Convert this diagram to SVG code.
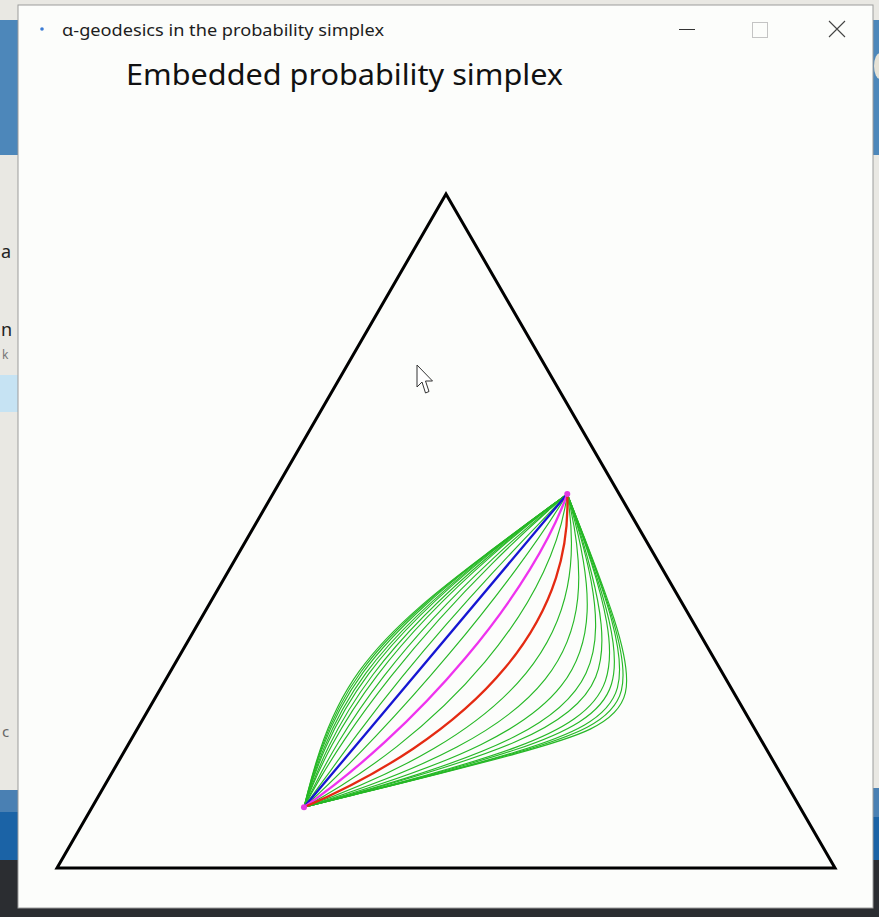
<svg xmlns="http://www.w3.org/2000/svg" width="879" height="917" viewBox="0 0 879 917">
<style>
.ui{font-family:'Segoe UI','Noto Sans','Open Sans',sans-serif}
.g{fill:none;stroke:#26b826;stroke-width:1.15;stroke-linecap:round;stroke-linejoin:round}
.c{fill:none;stroke-width:2.3;stroke-linecap:round}
.edge{fill:none;stroke:#000;stroke-width:3;stroke-linejoin:miter}
.dot{fill:#e23be2}
</style>
<g id="desktop">
<rect width="879" height="917" fill="#e9e8e3"/>
<rect x="0" y="20" width="18" height="135" fill="#4d87ba"/>
<rect x="0" y="375" width="18" height="37" fill="#c6e3f3"/>
<rect x="0" y="790" width="18" height="22" fill="#4a80b3"/>
<rect x="0" y="812" width="18" height="48" fill="#1b63a6"/>
<rect x="873" y="20" width="6" height="135" fill="#4d87ba"/>
<ellipse cx="880" cy="66" rx="6" ry="13" fill="#e6e2d6"/>
<rect x="873" y="788" width="6" height="29" fill="#4a80b3"/>
<rect x="873" y="817" width="6" height="43" fill="#1b63a6"/>
<rect x="0" y="860" width="879" height="57" fill="#2b2d31"/>
<g class="ui">
<text x="1" y="258" font-size="18" fill="#222">a</text>
<text x="1" y="336" font-size="18" fill="#222">n</text>
<text x="2" y="359" font-size="12" fill="#777">k</text>
<text x="2" y="737" font-size="15" fill="#666">c</text>
</g>
</g>
<g id="window">
<rect x="18" y="5" width="855" height="903" fill="#fcfdfb" stroke="#9c9c9c" stroke-width="1"/>
<circle cx="42" cy="29" r="1.8" fill="#3a7bd5"/>
<text class="ui" x="62" y="36" font-size="15.5" fill="#1e1e1e" textLength="322" lengthAdjust="spacingAndGlyphs">α-geodesics in the probability simplex</text>
<line x1="679" y1="29.5" x2="695" y2="29.5" stroke="#333" stroke-width="1"/>
<rect x="752.5" y="22.5" width="15" height="15" fill="none" stroke="#c4c4c4" stroke-width="1"/>
<path d="M829,21 L845,37 M845,21 L829,37" stroke="#444" stroke-width="1.1" fill="none"/>
<text class="ui" x="126" y="85" font-size="29" fill="#111" textLength="437" lengthAdjust="spacingAndGlyphs">Embedded probability simplex</text>
</g>
<g id="simplex">
<polygon class="edge" points="446,194 57,868 835,868"/>
</g>
<g id="geodesics">
<path class="g" d="M303.97,807.27 C305.26,802.02 306.15,798.52 306.94,795.44 C308.99,787.43 312.62,772.28 319.91,750.34 C327.20,728.40 338.69,699.60 359.25,671.12 C394.96,621.67 453.06,579.04 490.82,550.57 C528.58,522.10 551.22,505.75 559.90,499.38 C561.82,497.97 564.01,496.38 567.25,494"/>
<path class="g" d="M303.97,807.27 C305.40,801.63 306.41,797.81 307.30,794.46 C309.45,786.37 313.18,771.53 320.80,749.94 C328.42,728.35 340.52,700.01 361.03,671.73 C396.64,622.62 453.41,579.33 490.85,550.80 C528.29,522.27 550.50,506.30 559.29,499.84 C561.38,498.30 563.76,496.56 567.25,494"/>
<path class="g" d="M303.97,807.27 C305.57,801.18 306.73,797.00 307.76,793.32 C310.06,785.13 313.96,770.61 321.96,749.42 C329.96,728.23 342.69,700.43 363.12,672.40 C398.60,623.73 453.89,579.77 490.90,551.17 C527.91,522.57 549.65,506.95 558.56,500.38 C560.86,498.69 563.48,496.78 567.25,494"/>
<path class="g" d="M303.97,807.27 C305.85,800.61 307.25,795.94 308.52,791.82 C311.06,783.52 315.29,769.30 323.77,748.62 C332.25,727.93 345.58,700.82 365.89,673.16 C401.17,625.15 454.67,580.59 490.99,551.88 C527.31,523.17 548.55,507.86 557.61,501.13 C560.19,499.22 563.11,497.07 567.25,494"/>
<path class="g" d="M303.97,807.27 C306.12,800.04 307.77,794.88 309.28,790.31 C312.05,781.90 316.61,767.99 325.57,747.81 C334.53,727.63 348.47,701.20 368.66,673.92 C403.73,626.56 455.44,581.40 491.07,552.58 C526.71,523.76 547.45,508.77 556.66,501.88 C559.52,499.74 562.73,497.36 567.25,494"/>
<path class="g" d="M303.97,807.27 C306.68,799.24 308.87,793.32 310.90,788.04 C314.13,779.49 319.30,765.87 328.88,746.33 C338.45,726.80 352.92,701.34 372.87,674.73 C407.52,628.53 456.86,583.15 491.28,554.20 C525.70,525.25 545.85,510.33 555.24,503.14 C558.54,500.61 562.23,497.80 567.25,494"/>
<path class="g" d="M303.97,807.27 C307.24,798.43 309.97,791.75 312.51,785.76 C316.20,777.07 321.99,763.74 332.18,744.85 C342.37,725.96 357.37,701.47 377.08,675.53 C411.31,630.49 458.28,584.89 491.48,555.81 C524.68,526.73 544.24,511.89 553.81,504.40 C557.55,501.47 561.73,498.24 567.25,494"/>
<path class="g" d="M303.97,807.27 C308.52,797.28 312.55,789.27 316.37,781.96 C320.89,773.09 327.67,760.05 338.56,742.00 C349.45,723.95 364.76,700.83 383.93,676.11 C417.21,633.20 460.80,588.62 491.96,559.57 C523.11,530.52 541.85,515.17 551.58,507.02 C556.09,503.21 561.04,499.08 567.25,494"/>
<path class="g" d="M303.97,807.27 C309.80,796.13 315.12,786.79 320.23,778.16 C325.58,769.11 333.34,756.36 344.93,739.15 C356.52,721.94 372.15,700.18 390.77,676.69 C423.11,635.90 463.32,592.35 492.43,563.33 C521.54,534.31 539.46,518.45 549.35,509.64 C554.62,504.94 560.35,499.91 567.25,494"/>
<path class="g" d="M303.97,807.27 C313.02,794.40 321.81,782.44 330.50,770.82 C337.11,761.62 345.99,749.29 357.99,733.31 C369.99,717.32 385.21,697.63 402.47,676.42 C432.45,639.60 467.62,599.90 493.51,571.90 C519.40,543.90 536.02,526.86 545.83,516.66 C552.62,509.37 559.64,501.91 567.25,494"/>
<path class="g" d="M303.97,807.27 C326.88,786.41 351.24,762.27 375.85,736.23 C400.46,710.19 425.32,682.26 449.08,653.98 C472.84,625.70 495.50,597.07 515.67,569.81 C535.84,542.55 553.58,516.62 567.25,494"/>
<path class="g" d="M303.97,807.27 C333.19,791.58 365.48,771.17 397.10,746.37 C428.72,721.57 459.39,692.47 484.76,662.19 C510.13,631.91 530.04,600.71 543.50,571.94 C556.96,543.17 564.17,516.85 567.25,494"/>
<path class="g" d="M303.97,807.27 C349.13,791.19 395.07,771.27 433.81,748.53 C472.55,725.79 503.98,700.28 526.11,673.07 C548.24,645.86 561.35,616.94 567.35,586.84 C573.35,556.75 572.37,525.47 567.25,494"/>
<path class="g" d="M303.97,807.27 C363.78,788.69 416.62,768.28 456.88,747.04 C497.14,725.80 525.74,703.63 545.03,679.39 C564.32,655.15 574.50,628.79 577.69,598.46 C580.88,568.13 577.01,533.71 567.25,494"/>
<path class="g" d="M303.97,807.27 C386.13,784.02 441.22,763.95 480.73,744.66 C520.24,725.37 544.84,706.73 561.29,685.72 C577.74,664.71 585.87,641.49 587.12,611.67 C588.37,581.85 582.77,545.68 567.25,494"/>
<path class="g" d="M303.97,807.27 C348.15,795.49 380.60,786.06 407.47,777.62 C438.92,767.74 479.79,754.09 514.23,736.80 C548.67,719.51 574.29,698.40 585.99,673.20 C592.73,658.69 595.39,642.86 595.61,626.96 C595.83,611.06 593.74,595.21 591.12,581.09 C587.04,559.05 580.15,532.45 567.25,494"/>
<path class="g" d="M303.97,807.27 C342.66,797.20 369.95,789.62 392.74,782.93 C426.03,773.36 474.22,759.33 514.90,742.08 C555.57,724.82 584.84,704.39 595.70,677.01 C601.96,661.25 602.89,643.09 601.13,624.50 C599.37,605.91 595.14,587.23 591.07,571.50 C586.41,552.21 579.60,529.00 567.25,494"/>
<path class="g" d="M303.97,807.27 C337.16,798.90 359.29,793.18 378.01,788.24 C413.13,778.98 468.65,764.57 515.56,747.35 C562.47,730.13 595.39,710.37 605.41,680.82 C611.18,663.81 610.38,643.31 606.64,622.03 C602.90,600.75 596.53,579.25 591.02,561.91 C585.77,545.37 579.04,525.55 567.25,494"/>
<path class="g" d="M303.97,807.27 C333.48,799.89 352.75,794.98 369.12,790.76 C404.62,781.63 465.02,766.50 515.84,749.55 C566.65,732.59 602.18,714.65 611.43,684.22 C616.76,666.70 614.45,644.45 609.10,620.93 C603.74,597.42 595.81,573.53 589.54,555.29 C584.49,540.43 578.19,522.71 567.25,494"/>
<path class="g" d="M303.97,807.27 C329.80,800.87 346.21,796.78 360.23,793.27 C396.10,784.28 461.39,768.43 516.11,751.74 C570.83,735.05 608.97,718.93 617.45,687.61 C622.34,669.58 618.52,645.58 611.55,619.83 C604.58,594.08 595.08,567.81 588.05,548.67 C583.20,535.48 577.34,519.87 567.25,494"/>
<path class="g" d="M303.97,807.27 C327.37,801.49 342.02,797.85 354.60,794.72 C390.46,785.80 459.26,769.16 516.23,752.66 C573.19,736.16 613.42,721.88 621.40,690.30 C626.00,672.11 620.98,646.82 612.78,619.29 C604.58,591.75 593.95,563.53 586.54,543.93 C582.01,531.89 576.62,517.81 567.25,494"/>
<path class="g" d="M303.97,807.27 C324.94,802.10 337.83,798.92 348.96,796.17 C384.81,787.31 457.13,769.89 516.34,753.58 C575.55,737.27 617.86,724.83 625.35,692.98 C629.66,674.64 623.43,648.06 614.00,618.74 C604.57,589.42 592.81,559.25 585.03,539.19 C580.81,528.30 575.89,515.74 567.25,494"/>
<path class="c" stroke="#1616d2" d="M303.97,807.27 L567.25,494"/>
<path class="c" stroke="#ee33ee" d="M303.97,807.27 C329.19,789.75 356.86,767.75 384.72,742.20 C412.58,716.65 440.52,687.60 465.58,657.78 C490.64,627.96 512.70,597.51 529.92,569.42 C547.14,541.33 559.52,515.69 567.25,494"/>
<path class="c" stroke="#e42a12" d="M303.97,807.27 C339.49,792.07 377.99,772.33 413.51,748.45 C449.03,724.58 481.16,696.66 505.50,667.29 C529.84,637.92 546.43,607.26 555.97,577.79 C565.51,548.32 568.27,520.04 567.25,494"/>
</g>
<g id="point-start"><circle class="dot" cx="303.97" cy="807.27" r="3"/></g>
<g id="point-end"><circle class="dot" cx="567.25" cy="494" r="3"/></g>
<g id="cursor">
<polygon points="417,365 417,387 422,382 425.5,393 429,391.5 425.5,381 432.5,381" fill="#fff" stroke="#333" stroke-width="1" stroke-linejoin="round"/>
</g>
</svg>
